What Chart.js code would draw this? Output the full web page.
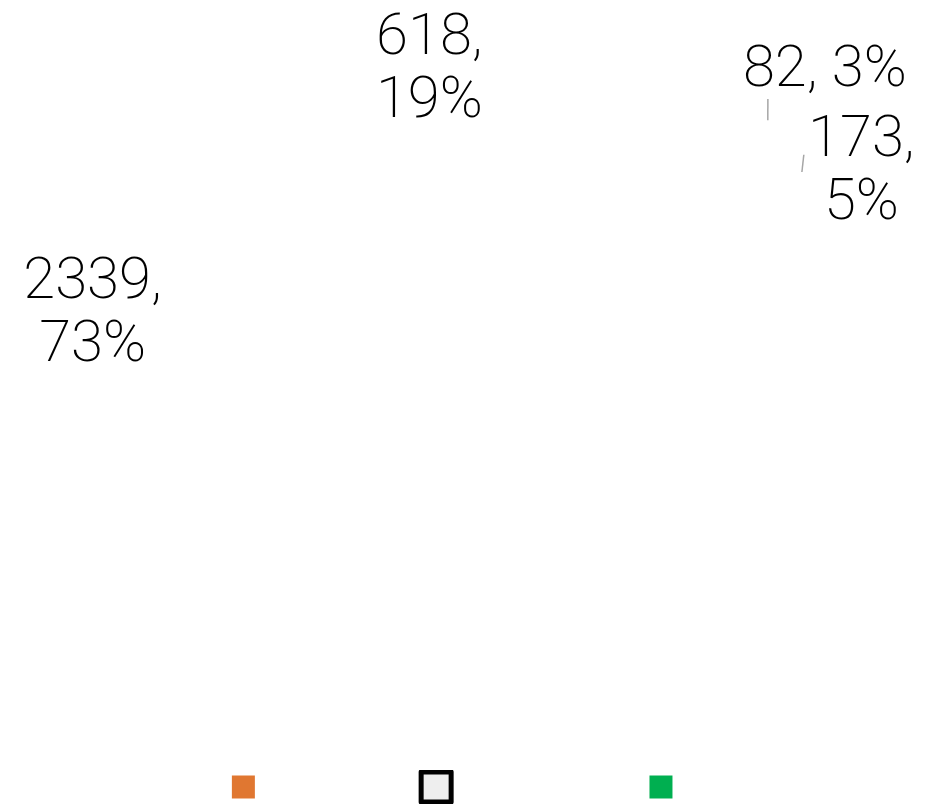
<!DOCTYPE html>
<html>
<head>
<meta charset="utf-8">
<script src="https://cdn.jsdelivr.net/npm/chart.js@4.4.1/dist/chart.umd.min.js"></script>
<style>
  html, body { margin: 0; padding: 0; background: #fff; }
</style>
</head>
<body>
<canvas id="migrafica" width="944" height="804"></canvas>
<script>
// datos del grafico
const categorias = ["Resolved within deadline", "Resolved outside the deadline", "Open", "Other"];
const valores = [2339, 618, 82, 173];

// colores de la leyenda (el pastel no se ve en la imagen)
const relleno = ["#E07731", "#EEEEEE", "#00AF50", "#FFFFFF"];
const borde = ["#FFFFFF", "#000000", "#FFFFFF", "#FFFFFF"];
const grosorBorde = [7, 5, 7, 7];

// donde va cada etiqueta dentro de su sector (fraccion del angulo, radio relativo)
const colocacion = [
  { f: 0.808, r: 1.005 },
  { f: 0.3, r: 0.84 },
  { f: 0.755, r: 1.236, guia: [0.79, 1.031, 0.549, 1.069] },
  { f: 0.55, r: 1.159, guia: [0.363, 1.02, 0.265, 1.049] },
];

const etiquetasPie = {
  id: "etiquetasPie",
  afterDatasetsDraw(chart) {
    const ctx = chart.ctx;
    const arcos = chart.getDatasetMeta(0).data;
    const total = valores.reduce((a, b) => a + b, 0);
    const tam = 58;
    const alto = 63;
    const capH = tam * 0.71;
    ctx.save();
    ctx.font = "200 " + tam + "px Roboto";
    ctx.textAlign = "center";
    ctx.textBaseline = "alphabetic";
    arcos.forEach((arco, i) => {
      const p = arco.getProps(["x", "y", "startAngle", "endAngle", "outerRadius"], true);
      const punto = (f, r) => {
        const a = p.startAngle + (p.endAngle - p.startAngle) * f;
        return [p.x + Math.cos(a) * p.outerRadius * r, p.y + Math.sin(a) * p.outerRadius * r];
      };
      const pos = colocacion[i];
      if (pos.guia) {
        const a = punto(pos.guia[0], pos.guia[1]);
        const b = punto(pos.guia[2], pos.guia[3]);
        ctx.strokeStyle = "#A6A6A6";
        ctx.lineWidth = 1.5;
        ctx.beginPath();
        ctx.moveTo(a[0], a[1]);
        ctx.lineTo(b[0], b[1]);
        ctx.stroke();
      }
      const pct = Math.round((valores[i] / total) * 100);
      let lineas = [valores[i] + ", " + pct + "%"];
      if (ctx.measureText(lineas[0]).width > 190) {
        lineas = [valores[i] + ",", pct + "%"];
      }
      const c = punto(pos.f, pos.r);
      ctx.fillStyle = "#000000";
      const y0 = c[1] - ((lineas.length - 1) * alto) / 2 + capH / 2;
      lineas.forEach((t, k) => {
        ctx.fillText(t, c[0], y0 + k * alto);
      });
    });
    ctx.restore();
  },
};

const graficaPie = document.querySelector("#migrafica").getContext("2d");
new Chart(graficaPie, {
  type: "pie",
  data: {
    labels: categorias,
    datasets: [
      {
        data: valores,
        backgroundColor: "rgba(0,0,0,0)",
        borderWidth: 0,
      },
    ],
  },
  options: {
    responsive: false,
    animation: false,
    rotation: 69.5,
    layout: { padding: { bottom: -8 } },
    plugins: {
      tooltip: { enabled: false },
      legend: {
        position: "bottom",
        labels: {
          boxWidth: 30,
          boxHeight: 30,
          padding: 2,
          color: "#FFFFFF",
          font: { family: "Roboto", size: 14 },
          generateLabels: () =>
            categorias.slice(0, 3).map((c, i) => ({
              text: c,
              fillStyle: relleno[i],
              strokeStyle: borde[i],
              lineWidth: grosorBorde[i],
              lineJoin: "round",
              fontColor: "#FFFFFF",
              hidden: false,
              index: i,
            })),
        },
      },
    },
  },
  plugins: [etiquetasPie],
});
</script>
</body>
</html>
